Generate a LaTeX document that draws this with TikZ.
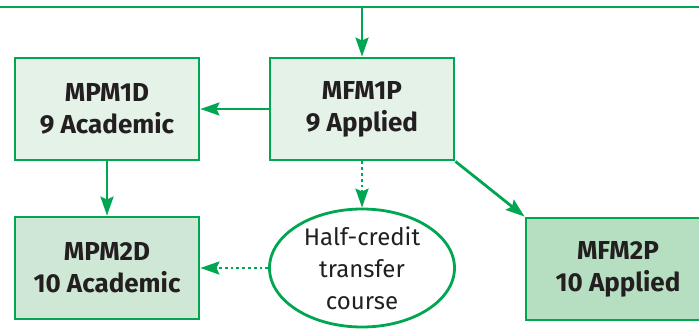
\documentclass[tikz,border=0pt]{standalone}
\usepackage{fontspec}
\setmainfont{Fira Sans}
\usetikzlibrary{arrows.meta,shapes.geometric}
\definecolor{pathgreen}{RGB}{0,166,81}
\definecolor{paleA}{RGB}{228,242,232}
\definecolor{paleB}{RGB}{207,232,213}
\definecolor{paleC}{RGB}{182,223,194}
\definecolor{inkdark}{RGB}{35,31,32}
\begin{document}
\begin{tikzpicture}[x=1pt,y=-1pt,
  course/.style={draw=pathgreen, line width=2.8pt, minimum width=184pt, minimum height=102pt,
    align=center, text=inkdark, font=\bfseries\fontsize{26}{32}\selectfont},
  halfcourse/.style={ellipse, draw=pathgreen, line width=2.8pt, minimum width=185pt, minimum height=118pt,
    align=center, text=inkdark, font=\fontsize{24}{32}\selectfont, inner sep=0pt},
  link/.style={draw=pathgreen, line width=2.8pt, -{Stealth[length=19pt,width=13pt,inset=3pt]}},
  optlink/.style={link, dash pattern=on 2.8pt off 3pt}]
\clip (0,0) rectangle (699,330); % keep the page at 699 x 330
% grade 9 and 10 boxes
\node[course, fill=paleA] (mpm1d) at (107,109) {MPM1D\\9 Academic};
\node[course, fill=paleA] (mfm1p) at (362,109) {MFM1P\\9 Applied};
\node[course, fill=paleB] (mpm2d) at (107,268) {MPM2D\\10 Academic};
\node[course, fill=paleC] (mfm2p) at (618,269) {MFM2P\\10 Applied};
\node[halfcourse] (transfer) at (362,268) {Half-credit\\transfer\\course};
% line from above
\coordinate (feedL) at (0,7);
\coordinate (feedR) at (699,7);
\coordinate (feedM) at (362,7);
\draw[pathgreen, line width=2.8pt] (feedL) -- (feedR);
\draw[link] (feedM) -- (mfm1p);
\draw[link] (mfm1p) -- (mpm1d);
\draw[link] (mpm1d) -- (mpm2d);
\draw[link] (mfm1p.south east) -- (mfm2p.north west);
\draw[optlink] (mfm1p) -- (transfer);
\draw[optlink] (transfer) -- (mpm2d);
\end{tikzpicture}
\end{document}
